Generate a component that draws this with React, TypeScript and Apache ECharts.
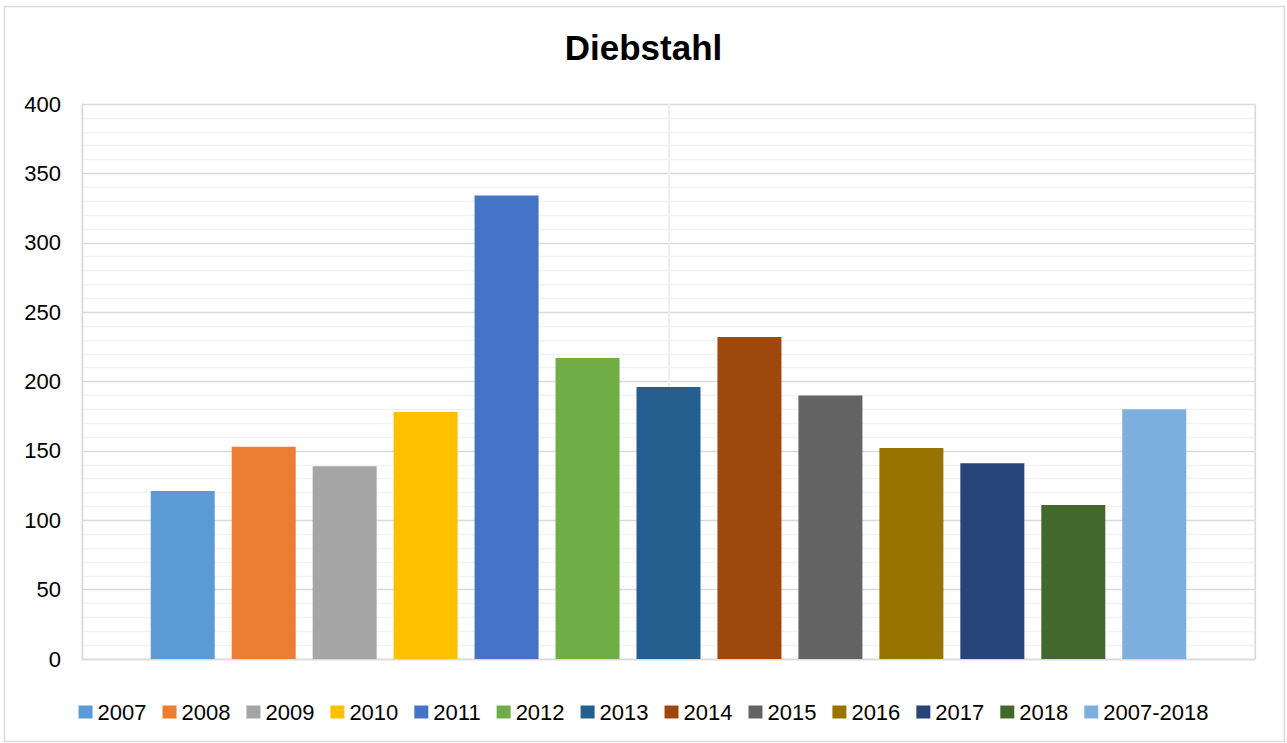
import React, { useEffect, useRef } from "react";
import * as echarts from "echarts";

const seriesNames = ["2007", "2008", "2009", "2010", "2011", "2012", "2013", "2014", "2015", "2016", "2017", "2018", "2007-2018"];
const seriesValues = [121, 153, 139, 178, 334, 217, 196, 232, 190, 152, 141, 111, 180];
const seriesColors = ["#5B9BD5", "#ED7D31", "#A5A5A5", "#FFC000", "#4472C4", "#70AD47", "#255E91", "#9E480E", "#636363", "#997300", "#264478", "#43682B", "#7CAFDD"];
const categories = [""];
const titleText = "Diebstahl";

const FONT = "'Liberation Sans', Arial, sans-serif";

export default function App() {
  const ref = useRef<HTMLDivElement>(null);
  useEffect(() => {
    if (!ref.current) return;
    const chart = echarts.init(ref.current, undefined, { renderer: "svg" });
    chart.setOption({
      animation: false,
      backgroundColor: "#ffffff",
      title: {
        text: titleText,
        left: "center",
        top: 25,
        textStyle: { fontFamily: FONT, fontSize: 35, fontWeight: "bold", color: "#000000" },
      },
      graphic: [
        {
          type: "rect",
          shape: { x: 4.5, y: 6.5, width: 1280, height: 735 },
          style: { fill: "none", stroke: "#d9d9d9", lineWidth: 1.5 },
          silent: true,
          z: -10,
        },
      ],
      legend: {
        data: seriesNames,
        left: "center",
        top: 696,
        icon: "rect",
        itemWidth: 14,
        itemHeight: 13,
        itemGap: 16,
        textStyle: { fontFamily: FONT, fontSize: 22, color: "#000000", padding: [0, 0, 0, 0] },
      },
      grid: { left: 82, right: 32, top: 104, bottom: 84, containLabel: false },
      xAxis: [
        {
          type: "category",
          data: categories,
          axisLine: { show: true, lineStyle: { color: "#d9d9d9", width: 1.3 } },
          axisTick: { show: false },
          axisLabel: { show: false },
          splitLine: { show: true, lineStyle: { color: "#d9d9d9", width: 1.3 } },
          z: 2,
        },
        {
          type: "value",
          min: 0,
          max: 2,
          interval: 1,
          position: "top",
          axisLine: { show: false },
          axisTick: { show: false },
          axisLabel: { show: false },
          splitLine: { show: true, lineStyle: { color: "#efefef", width: 2 } },
          z: 1,
        },
      ],
      yAxis: {
        type: "value",
        min: 0,
        max: 400,
        interval: 50,
        axisLine: { show: true, lineStyle: { color: "#d9d9d9", width: 1.3 } },
        axisTick: { show: false },
        axisLabel: { fontFamily: FONT, fontSize: 22, color: "#000000", margin: 21 },
        splitLine: { show: true, lineStyle: { color: "#d9d9d9", width: 1.3 } },
        minorTick: { show: false, splitNumber: 5 },
        minorSplitLine: { show: true, lineStyle: { color: "#f2f2f2", width: 1.3 } },
      },
      series: seriesNames.map((name, i) => ({
        name,
        type: "bar",
        xAxisIndex: 0,
        data: [seriesValues[i]],
        barWidth: 64,
        barGap: "26.5%",
        itemStyle: { color: seriesColors[i] },
      })),
    });
    return () => chart.dispose();
  }, []);
  return <div ref={ref} style={{ position: "fixed", left: 0, top: 0, width: 1287, height: 743 }} />;
}
